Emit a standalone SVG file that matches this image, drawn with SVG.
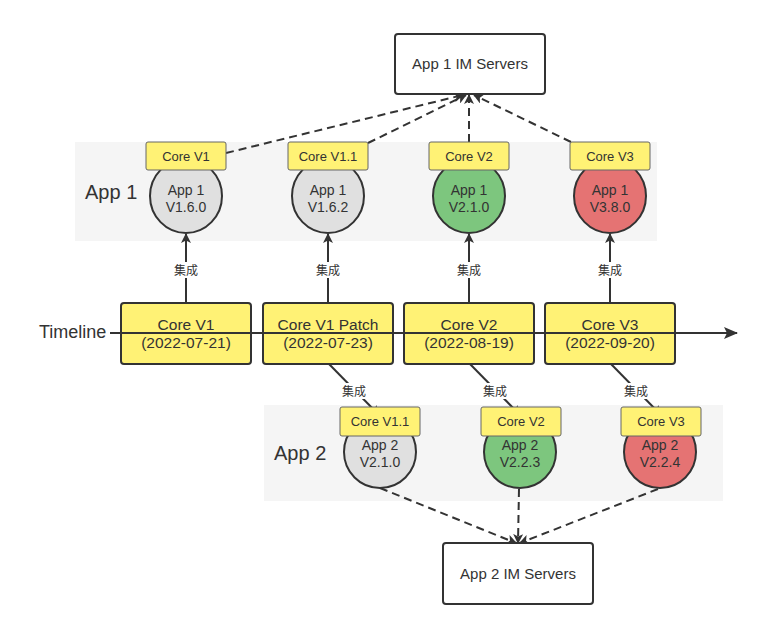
<svg xmlns="http://www.w3.org/2000/svg" width="784" height="638" viewBox="0 0 784 638">
<defs>
<style>
text{font-family:"Liberation Sans","Noto Sans CJK SC",sans-serif;fill:#333;text-anchor:middle}
.band{fill:#f5f5f5}
.sec{font-size:20px;text-anchor:start}
.srv{fill:#fff;stroke:#333;stroke-width:2}
.srvt{font-size:15px}
.tag{fill:#fff275;stroke:#666;stroke-width:1}
.tagt{font-size:13px}
.el{stroke:#333;stroke-width:2}
.gray{fill:#e0e0e0}.green{fill:#7dc67e}.red{fill:#e57373}
.elt{font-size:14px}
.tl{fill:#fff275;stroke:#333;stroke-width:2}
.tlt{font-size:15.5px}
.ln{stroke:#333;stroke-width:2;fill:none}
.dash{stroke:#333;stroke-width:2;fill:none;stroke-dasharray:8 5}
.lblbg{fill:#fff}
.lbl{font-size:12px}
</style>
<marker id="arr" viewBox="0 0 10 10" refX="9" refY="5" markerWidth="10" markerHeight="10" orient="auto" markerUnits="userSpaceOnUse"><path d="M0,0 L10,5 L0,10 L2.5,5 z" fill="#333"/></marker>
<marker id="arrBig" viewBox="0 0 14 12" refX="13" refY="6" markerWidth="14" markerHeight="12" orient="auto" markerUnits="userSpaceOnUse"><path d="M0,0 L14,6 L0,12 L3,6 z" fill="#333"/></marker>
</defs>
<rect width="784" height="638" fill="#fff"/>
<g id="bands">
<rect class="band" x="75" y="142" width="582" height="99"/>
<rect class="band" x="264" y="405" width="459" height="96"/>
<text class="sec" x="85" y="199">App 1</text>
<text class="sec" x="274" y="460">App 2</text>
<text x="39" y="338" style="font-size:18px;text-anchor:start">Timeline</text>
</g>
<g id="connectors">
<line class="dash" x1="226" y1="153" x2="463" y2="95" marker-end="url(#arr)"/>
<line class="dash" x1="368" y1="143" x2="466" y2="95" marker-end="url(#arr)"/>
<line class="dash" x1="469" y1="142" x2="469" y2="95" marker-end="url(#arr)"/>
<line class="dash" x1="571" y1="142" x2="474" y2="95" marker-end="url(#arr)"/>
<line class="dash" x1="380" y1="488" x2="516" y2="543" marker-end="url(#arr)"/>
<line class="dash" x1="519" y1="489" x2="518" y2="543" marker-end="url(#arr)"/>
<line class="dash" x1="658" y1="489" x2="520" y2="543" marker-end="url(#arr)"/>
<line class="ln" x1="186" y1="303" x2="186" y2="234" marker-end="url(#arr)"/>
<line class="ln" x1="328" y1="303" x2="328" y2="234" marker-end="url(#arr)"/>
<line class="ln" x1="469" y1="303" x2="469" y2="234" marker-end="url(#arr)"/>
<line class="ln" x1="610" y1="303" x2="610" y2="234" marker-end="url(#arr)"/>
<line class="ln" x1="329" y1="364" x2="379" y2="415" marker-end="url(#arr)"/>
<line class="ln" x1="470" y1="364" x2="520" y2="415" marker-end="url(#arr)"/>
<line class="ln" x1="611" y1="364" x2="661" y2="415" marker-end="url(#arr)"/>
</g>
<g id="app1-servers"><rect class="srv" x="395" y="34" width="150" height="60" rx="3"/><text class="srvt" x="470" y="69">App 1 IM Servers</text></g>
<g id="app2-servers"><rect class="srv" x="443" y="543" width="150" height="61" rx="3"/><text class="srvt" x="518" y="579">App 2 IM Servers</text></g>
<g id="app1-v160"><ellipse class="el gray" cx="186" cy="196" rx="36" ry="37"/><text class="elt" x="186" y="195">App 1</text><text class="elt" x="186" y="212">V1.6.0</text><rect class="tag" x="146" y="142" width="80" height="28" rx="2"/><text class="tagt" x="186" y="161">Core V1</text></g>
<g id="app1-v162"><ellipse class="el gray" cx="328" cy="196" rx="36" ry="37"/><text class="elt" x="328" y="195">App 1</text><text class="elt" x="328" y="212">V1.6.2</text><rect class="tag" x="288" y="142" width="80" height="28" rx="2"/><text class="tagt" x="328" y="161">Core V1.1</text></g>
<g id="app1-v210"><ellipse class="el green" cx="469" cy="196" rx="36" ry="37"/><text class="elt" x="469" y="195">App 1</text><text class="elt" x="469" y="212">V2.1.0</text><rect class="tag" x="429" y="142" width="80" height="28" rx="2"/><text class="tagt" x="469" y="161">Core V2</text></g>
<g id="app1-v380"><ellipse class="el red" cx="610" cy="196" rx="36" ry="37"/><text class="elt" x="610" y="195">App 1</text><text class="elt" x="610" y="212">V3.8.0</text><rect class="tag" x="570" y="142" width="80" height="28" rx="2"/><text class="tagt" x="610" y="161">Core V3</text></g>
<g id="app2-v210"><ellipse class="el gray" cx="380" cy="452" rx="36" ry="36"/><text class="elt" x="380" y="450">App 2</text><text class="elt" x="380" y="467">V2.1.0</text><rect class="tag" x="340" y="407" width="80" height="29" rx="2"/><text class="tagt" x="380" y="426">Core V1.1</text></g>
<g id="app2-v223"><ellipse class="el green" cx="520" cy="452" rx="36" ry="36"/><text class="elt" x="520" y="450">App 2</text><text class="elt" x="520" y="467">V2.2.3</text><rect class="tag" x="481" y="407" width="80" height="29" rx="2"/><text class="tagt" x="521" y="426">Core V2</text></g>
<g id="app2-v224"><ellipse class="el red" cx="660" cy="452" rx="36" ry="36"/><text class="elt" x="660" y="450">App 2</text><text class="elt" x="660" y="467">V2.2.4</text><rect class="tag" x="621" y="407" width="80" height="29" rx="2"/><text class="tagt" x="661" y="426">Core V3</text></g>
<g id="core-v1"><rect class="tl" x="121" y="303" width="130" height="61" rx="3"/><text class="tlt" x="186" y="330">Core V1</text><text class="tlt" x="186" y="348">(2022-07-21)</text></g>
<g id="core-v1-patch"><rect class="tl" x="263" y="303" width="130" height="61" rx="3"/><text class="tlt" x="328" y="330">Core V1 Patch</text><text class="tlt" x="328" y="348">(2022-07-23)</text></g>
<g id="core-v2"><rect class="tl" x="404" y="303" width="130" height="61" rx="3"/><text class="tlt" x="469" y="330">Core V2</text><text class="tlt" x="469" y="348">(2022-08-19)</text></g>
<g id="core-v3"><rect class="tl" x="545" y="303" width="130" height="61" rx="3"/><text class="tlt" x="610" y="330">Core V3</text><text class="tlt" x="610" y="348">(2022-09-20)</text></g>
<g id="timeline-axis">
<line class="ln" x1="110" y1="333" x2="737" y2="333" marker-end="url(#arrBig)"/>
</g>
<g id="edge-labels">
<rect class="lblbg" x="172" y="262" width="28" height="16"/><text class="lbl" x="186" y="275">集成</text>
<rect class="lblbg" x="314" y="262" width="28" height="16"/><text class="lbl" x="328" y="275">集成</text>
<rect class="lblbg" x="455" y="262" width="28" height="16"/><text class="lbl" x="469" y="275">集成</text>
<rect class="lblbg" x="596" y="262" width="28" height="16"/><text class="lbl" x="610" y="275">集成</text>
<rect class="lblbg" x="340" y="383" width="28" height="16"/><text class="lbl" x="354" y="396">集成</text>
<rect class="lblbg" x="481" y="383" width="28" height="16"/><text class="lbl" x="495" y="396">集成</text>
<rect class="lblbg" x="622" y="383" width="28" height="16"/><text class="lbl" x="636" y="396">集成</text>
</g>
</svg>
